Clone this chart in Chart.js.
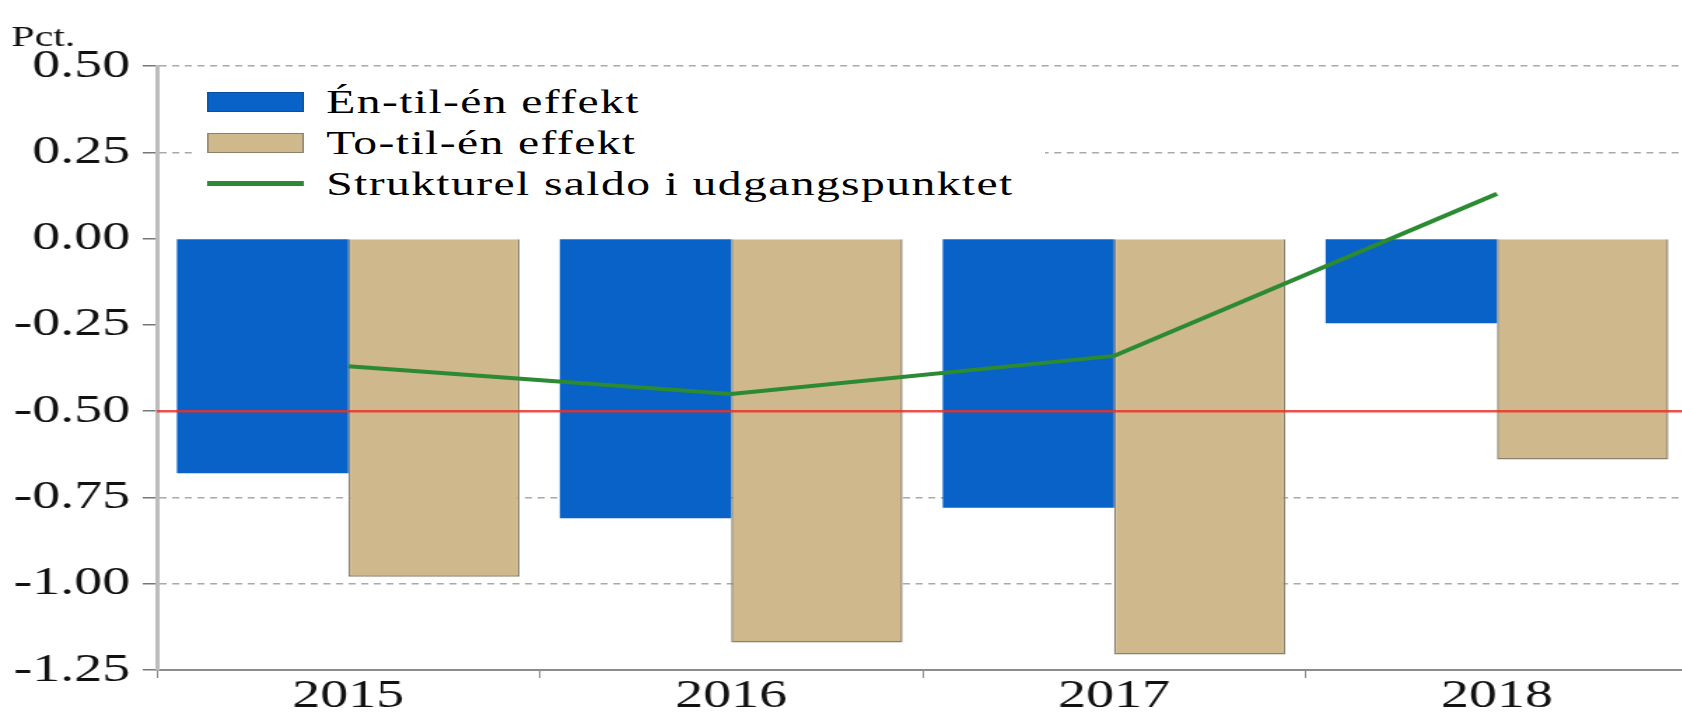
<!DOCTYPE html>
<html>
<head>
<meta charset="utf-8">
<script src="https://cdn.jsdelivr.net/npm/chart.js@4.4.1/dist/chart.umd.min.js"></script>
<style>
  html, body { margin:0; padding:0; background:#fff; overflow:hidden; }
  /* the source picture is stretched sideways, so the whole chart is drawn narrow and widened */
  #wrap { position:relative; width:1210px; height:714px; transform:scaleX(1.4); transform-origin:0 0; }
  #legend { position:absolute; left:138px; top:78px; width:608px; height:136px; background:#fff;
            padding-top:3px; box-sizing:border-box;
            font-family:"Liberation Serif", "Times New Roman", "DejaVu Serif", serif;
            font-size:34px; letter-spacing:1px; color:#000; }
  #legend .row { display:flex; align-items:center; height:41px; padding-left:10px; white-space:nowrap; }
  #legend .sw { width:69px; margin-right:16px; box-sizing:border-box; flex:none; }
</style>
</head>
<body>
<div id="wrap">
  <canvas id="saldoChart" width="1210" height="714"></canvas>
  <div id="legend"></div>
</div>
<script>
const years = ['2015', '2016', '2017', '2018'];
const enTilEn = [-0.68, -0.81, -0.78, -0.245];
const toTilEn = [-0.98, -1.17, -1.205, -0.64];
const strukturelSaldo = [-0.37, -0.45, -0.34, 0.13];
const seriesNames = ['Én-til-én effekt', 'To-til-én effekt', 'Strukturel saldo i udgangspunktet'];
const yMin = -1.25, yMax = 0.5, yStep = 0.25;
const dottedLevels = [0.5, 0.25, -0.75, -1.0];
const refLevel = -0.5;

const serif = '"Liberation Serif", "Times New Roman", "DejaVu Serif", serif';

// red reference line, drawn over the bars
const refLine = {
  id: 'refLine',
  afterDatasetsDraw(chart) {
    const { ctx, chartArea, scales } = chart;
    const y = scales.y.getPixelForValue(refLevel);
    ctx.save();
    ctx.strokeStyle = 'rgba(232,50,40,0.85)';
    ctx.lineWidth = 2.5;
    ctx.beginPath();
    ctx.moveTo(chartArea.left, y);
    ctx.lineTo(chartArea.right, y);
    ctx.stroke();
    ctx.restore();
  }
};

const chart = new Chart(document.getElementById('saldoChart'), {
  data: {
    labels: years,
    datasets: [
      { type:'bar', label: seriesNames[0], data: enTilEn, backgroundColor:'#0962c8',
        borderColor:'#0b56b0', borderWidth:0, order:2 },
      { type:'bar', label: seriesNames[1], data: toTilEn, backgroundColor:'#cfb98c',
        borderColor:'#8a806c', borderWidth:1.5, order:2 },
      { type:'line', label: seriesNames[2], data: strukturelSaldo, borderColor:'#2b8a32',
        borderWidth:4, pointRadius:0, fill:false, tension:0, order:1 }
    ]
  },
  options: {
    responsive:false,
    animation:false,
    datasets: { bar: { categoryPercentage:0.895, barPercentage:1 } },
    layout: { padding: { left:8, right:4, top:0, bottom:0 } },
    plugins: {
      legend: { display:false },
      tooltip: { enabled:false },
      title: { display:true, text:'Pct.', align:'start', color:'#111',
               font:{ family:serif, size:30, weight:'normal' }, padding:{ top:20, bottom:10 } }
    },
    scales: {
      x: {
        grid: { drawOnChartArea:false, drawTicks:true, tickLength:8, color:'#888', tickColor:'#888' },
        border: { color:'#8c8c8c', width:2 },
        ticks: { color:'#111', padding:-2, font:{ family:serif, size:40, lineHeight:1 } }
      },
      y: {
        min:yMin, max:yMax,
        afterFit: s => { s.width = 104; },
        grid: {
          color: c => (c.tick && dottedLevels.includes(c.tick.value)) ? '#a9a9a9' : 'transparent',
          lineWidth:1.5, tickLength:10, tickColor:'#777'
        },
        border: { color:'#bdbdbd', width:3, dash:[5,4] },
        ticks: { stepSize:yStep, color:'#111', padding:9, font:{ family:serif, size:40 },
                 callback: v => v.toFixed(2) }
      }
    }
  },
  plugins: [refLine]
});

// legend as html, swatches taken from the datasets
document.getElementById('legend').innerHTML = chart.data.datasets.map(d => {
  const sw = d.type === 'line'
    ? `<div class="sw" style="height:5px;background:${d.borderColor}"></div>`
    : `<div class="sw" style="height:20px;background:${d.backgroundColor};border:1.5px solid ${d.borderWidth ? d.borderColor : '#0a4f9e'}"></div>`;
  return `<div class="row">${sw}<span>${d.label}</span></div>`;
}).join('');
</script>
</body>
</html>
